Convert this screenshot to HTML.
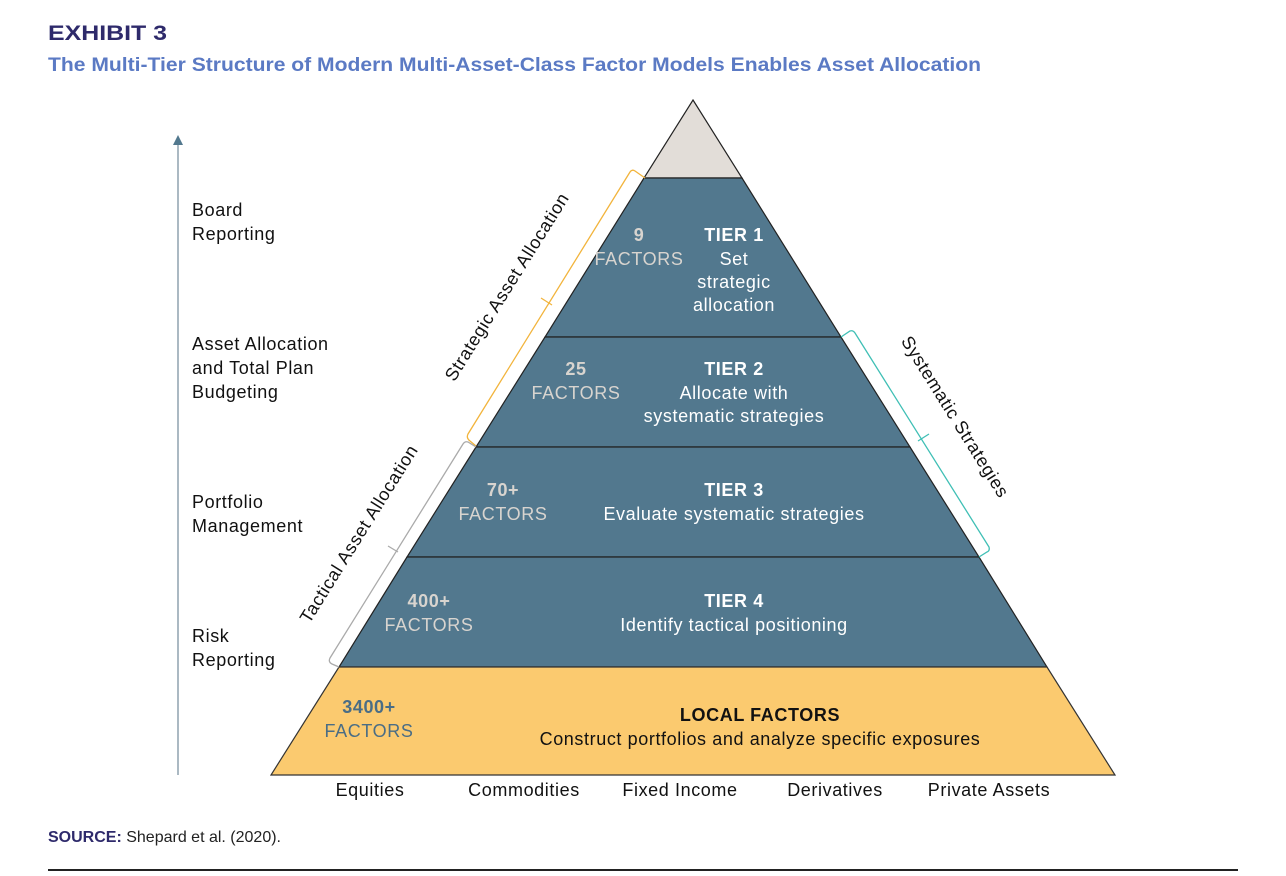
<!DOCTYPE html>
<html><head><meta charset="utf-8"><style>
html,body{margin:0;padding:0;background:#fff;}
svg{display:block;font-family:"Liberation Sans",sans-serif;}
.b{letter-spacing:0.6px;}
</style></head><body>
<svg width="1286" height="876" viewBox="0 0 1286 876" xmlns="http://www.w3.org/2000/svg">
<text x="48" y="40" font-size="21" font-weight="bold" fill="#2e2a6b" textLength="119" lengthAdjust="spacingAndGlyphs">EXHIBIT 3</text>
<text x="48" y="71" font-size="19" font-weight="bold" fill="#5b7ac4" textLength="933" lengthAdjust="spacingAndGlyphs">The Multi-Tier Structure of Modern Multi-Asset-Class Factor Models Enables Asset Allocation</text>

<line x1="178" y1="142" x2="178" y2="775" stroke="#8fa2af" stroke-width="1.5"/>
<polygon points="178,135 173,145 183,145" fill="#52788e"/>
<g font-size="18" fill="#111" class="b">
<text x="192" y="216">Board</text><text x="192" y="240">Reporting</text>
<text x="192" y="350">Asset Allocation</text><text x="192" y="374">and Total Plan</text><text x="192" y="398">Budgeting</text>
<text x="192" y="508">Portfolio</text><text x="192" y="532">Management</text>
<text x="192" y="642">Risk</text><text x="192" y="666">Reporting</text>
</g>

<polygon points="693,100 742,178 644,178" fill="#e2ddd8" stroke="#222" stroke-width="1.2"/>
<polygon points="644,178 742,178 841,337 545,337" fill="#52788e" stroke="#222" stroke-width="1.2"/>
<polygon points="545,337 841,337 910,447 476,447" fill="#52788e" stroke="#222" stroke-width="1.2"/>
<polygon points="476,447 910,447 979,557 407,557" fill="#52788e" stroke="#222" stroke-width="1.2"/>
<polygon points="407,557 979,557 1047,667 339,667" fill="#52788e" stroke="#222" stroke-width="1.2"/>
<polygon points="339,667 1047,667 1115,775 271,775" fill="#fbca6f" stroke="#333" stroke-width="1.2"/>

<path d="M645,178 L635,171 Q632,169 630,172 L468,434 Q466,438 470,441 L476,446" fill="none" stroke="#f2b43c" stroke-width="1.3"/>
<path d="M552,305 L541,298" stroke="#f2b43c" stroke-width="1.3"/>
<path d="M476,447 L468,442 Q465,441 463,444 L330,658 Q328,662 332,664 L339,667" fill="none" stroke="#aaa" stroke-width="1.3"/>
<path d="M398,552 L388,546" stroke="#aaa" stroke-width="1.3"/>
<path d="M841,337 L850,331 Q853,330 855,333 L989,547 Q990,551 987,552 L979,557" fill="none" stroke="#3fbfb5" stroke-width="1.3"/>
<path d="M918,441 L929,434" stroke="#3fbfb5" stroke-width="1.3"/>

<g font-size="18" fill="#111" class="b" text-anchor="middle">
<text transform="translate(512,290) rotate(-58)">Strategic Asset Allocation</text>
<text transform="translate(364,537) rotate(-58)">Tactical Asset Allocation</text>
<text transform="translate(950,420) rotate(58)">Systematic Strategies</text>
</g>

<g font-size="18" text-anchor="middle" class="b">
<text x="639" y="241" fill="#d8d4cf" font-weight="bold">9</text>
<text x="639" y="265" fill="#d8d4cf">FACTORS</text>
<text x="734" y="241" fill="#fff" font-weight="bold">TIER 1</text>
<text x="734" y="265" fill="#fff">Set</text>
<text x="734" y="288" fill="#fff">strategic</text>
<text x="734" y="311" fill="#fff">allocation</text>

<text x="576" y="375" fill="#d8d4cf" font-weight="bold">25</text>
<text x="576" y="399" fill="#d8d4cf">FACTORS</text>
<text x="734" y="375" fill="#fff" font-weight="bold">TIER 2</text>
<text x="734" y="399" fill="#fff">Allocate with</text>
<text x="734" y="422" fill="#fff">systematic strategies</text>

<text x="503" y="496" fill="#d8d4cf" font-weight="bold">70+</text>
<text x="503" y="520" fill="#d8d4cf">FACTORS</text>
<text x="734" y="496" fill="#fff" font-weight="bold">TIER 3</text>
<text x="734" y="520" fill="#fff">Evaluate systematic strategies</text>

<text x="429" y="607" fill="#d8d4cf" font-weight="bold">400+</text>
<text x="429" y="631" fill="#d8d4cf">FACTORS</text>
<text x="734" y="607" fill="#fff" font-weight="bold">TIER 4</text>
<text x="734" y="631" fill="#fff">Identify tactical positioning</text>

<text x="369" y="713" fill="#4a6d85" font-weight="bold">3400+</text>
<text x="369" y="737" fill="#4a6d85">FACTORS</text>
<text x="760" y="721" fill="#111" font-weight="bold">LOCAL FACTORS</text>
<text x="760" y="745" fill="#111">Construct portfolios and analyze specific exposures</text>

<g fill="#111">
<text x="370" y="796">Equities</text>
<text x="524" y="796">Commodities</text>
<text x="680" y="796">Fixed Income</text>
<text x="835" y="796">Derivatives</text>
<text x="989" y="796">Private Assets</text>
</g>
</g>

<text x="48" y="842" font-size="16" fill="#222"><tspan font-weight="bold" fill="#2e2a6b">SOURCE:</tspan> Shepard et al. (2020).</text>
<line x1="48" y1="870" x2="1238" y2="870" stroke="#222" stroke-width="2"/>
</svg>
</body></html>
